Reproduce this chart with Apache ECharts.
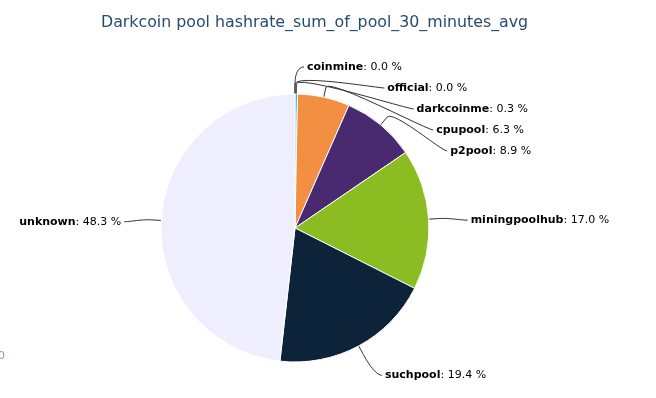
<!DOCTYPE html>
<html>
<head>
<meta charset="utf-8">
<script src="https://cdn.jsdelivr.net/npm/echarts@6/dist/echarts.min.js"></script>
<style>
  html, body { margin: 0; padding: 0; background: #fff; }
  #main { width: 656px; height: 398px; }
</style>
</head>
<body>
<div id="main"></div>
<script>
// pools, clockwise from 12 o'clock
var pools = ['coinmine', 'official', 'darkcoinme', 'cpupool', 'p2pool', 'miningpoolhub', 'suchpool', 'unknown']
var shares = [0.0, 0.0, 0.3, 6.3, 8.9, 17.0, 19.4, 48.3]
var colors = ['#2f7ed8', '#910000', '#1aadce', '#f28f43', '#492970', '#8bbc21', '#0d233a', '#eeeeff']

// pie geometry
var cx = 295, cy = 228, r = 134
var dist = 30          // label distance from the rim
var lineH = 21         // min spacing between stacked labels

var chart = echarts.init(document.getElementById('main'))

// label placement: labels sit on a circle of radius r + dist,
// pushed down when they collide, soft bezier connectors
var R = r + dist
var total = shares.reduce(function (a, b) { return a + b }, 0)
var acc = 0
var place = shares.map(function (v, i) {
  var ang = (acc + v / 2) / total * Math.PI * 2
  acc += v
  return { i: i, ang: ang, right: ang < Math.PI, y: cy - R * Math.cos(ang) }
})
;[true, false].forEach(function (side) {
  var list = place.filter(function (p) { return p.right === side })
  list.sort(function (a, b) { return a.y - b.y })
  for (var k = 1; k < list.length; k++) {
    if (list[k].y < list[k - 1].y + lineH) list[k].y = list[k - 1].y + lineH
  }
})

function bez(p0, p1, p2, p3, t) {
  var u = 1 - t
  return [
    u * u * u * p0[0] + 3 * u * u * t * p1[0] + 3 * u * t * t * p2[0] + t * t * t * p3[0],
    u * u * u * p0[1] + 3 * u * u * t * p1[1] + 3 * u * t * t * p2[1] + t * t * t * p3[1]
  ]
}

place.forEach(function (p) {
  var dy = p.y - cy
  var dx = Math.sqrt(Math.max(0, R * R - dy * dy))
  var sgn = p.right ? 1 : -1
  p.x = p.right ? cx + dx + 12 : cx - dx - 10
  p.ty = p.y + 3
  var s = Math.sin(p.ang), c = Math.cos(p.ang)
  var edge = [cx + r * s, cy - r * c]
  var brk = [cx + (r + 10) * s, cy - (r + 10) * c]
  var p0 = [p.x - sgn * 3, p.ty]
  var p1 = [p.x - sgn * 9, p.ty]
  var p2 = [2 * brk[0] - edge[0], 2 * brk[1] - edge[1]]
  var pts = [edge]
  for (var k = 0; k <= 12; k++) pts.push(bez(brk, p2, p1, p0, k / 12))
  p.line = pts
})

var option = {
  backgroundColor: '#fff',
  animation: false,
  title: {
    text: 'Darkcoin pool hashrate_sum_of_pool_30_minutes_avg',
    left: 96,
    top: 10,
    textStyle: {
      fontFamily: 'DejaVu Sans',
      fontSize: 15.8,
      fontWeight: 'normal',
      color: '#274b6d'
    }
  },
  graphic: [
    {
      type: 'text',
      left: -2,
      top: 351,
      style: { text: '0', fill: '#8a9bb0', font: '11px DejaVu Sans' }
    }
  ],
  series: [
    {
      type: 'pie',
      center: [cx, cy],
      radius: r,
      startAngle: 90,
      clockwise: true,
      avoidLabelOverlap: false,
      itemStyle: { borderColor: '#fff', borderWidth: 1 },
      label: {
        fontFamily: 'DejaVu Sans',
        fontSize: 11,
        color: '#000',
        formatter: function (p) {
          return '{b|' + p.name + '}: ' + p.value.toFixed(1) + ' %'
        },
        rich: {
          b: { fontWeight: 'bold', fontFamily: 'DejaVu Sans', fontSize: 11, color: '#000' }
        }
      },
      labelLine: {
        show: true,
        smooth: false,
        lineStyle: { color: '#333', width: 1 }
      },
      labelLayout: function (params) {
        var p = place[params.dataIndex]
        return {
          x: p.x,
          y: p.ty,
          align: p.right ? 'left' : 'right',
          verticalAlign: 'middle',
          labelLinePoints: p.line
        }
      },
      emphasis: { disabled: true },
      data: pools.map(function (n, i) {
        return { name: n, value: shares[i], itemStyle: { color: colors[i] } }
      })
    }
  ]
}

chart.setOption(option)
</script>
</body>
</html>
